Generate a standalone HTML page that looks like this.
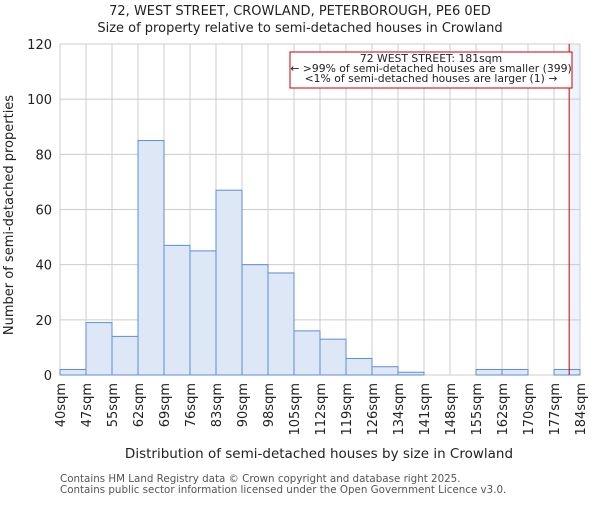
<!DOCTYPE html>
<html><head><meta charset="utf-8"><style>
body{margin:0;background:#fff}
svg text{font-family:"DejaVu Sans","Liberation Sans",sans-serif}
</style></head><body>
<svg id="chart" width="600" height="500" xmlns="http://www.w3.org/2000/svg">
<text x="300" y="15" text-anchor="middle" font-size="13" fill="#222">72, WEST STREET, CROWLAND, PETERBOROUGH, PE6 0ED</text>
<text x="300" y="32" text-anchor="middle" font-size="13" fill="#222">Size of property relative to semi-detached houses in Crowland</text>
<g id="grid"></g><g id="bars"></g><g id="axes"></g>
<text x="319" y="458" text-anchor="middle" font-size="13.5" fill="#222">Distribution of semi-detached houses by size in Crowland</text>
<text transform="translate(13,215) rotate(-90)" text-anchor="middle" font-size="13" fill="#222">Number of semi-detached properties</text>
<text x="60" y="482" font-size="10.3" fill="#555">Contains HM Land Registry data © Crown copyright and database right 2025.</text>
<text x="60" y="493" font-size="10.3" fill="#555">Contains public sector information licensed under the Open Government Licence v3.0.</text>
</svg>
<script>
const tickLabels=["40sqm","47sqm","55sqm","62sqm","69sqm","76sqm","83sqm","90sqm","98sqm","105sqm","112sqm","119sqm","126sqm","134sqm","141sqm","148sqm","155sqm","162sqm","170sqm","177sqm","184sqm"];
const counts=[2,19,14,85,47,45,67,40,37,16,13,6,3,1,0,0,2,2,0,2];
const yTicks=[0,20,40,60,80,100,120];
const binStart=40, binEnd=184;
const subjectSize=181;
const X0=60,X1=580,Y0=375,Y1=44,YMAX=120;
const NS="http://www.w3.org/2000/svg";
const n=counts.length;
const xb=i=>X0+(X1-X0)*i/n;
const xv=v=>X0+(X1-X0)*(v-binStart)/(binEnd-binStart);
const y=v=>Y0-(Y0-Y1)*v/YMAX;
function mk(t,a,p){const e=document.createElementNS(NS,t);for(const k in a)e.setAttribute(k,a[k]);p.appendChild(e);return e;}
const grid=document.getElementById('grid'),bars=document.getElementById('bars'),axes=document.getElementById('axes');
const hl=mk('rect',{x:xv(subjectSize),y:Y1,width:X1-xv(subjectSize),height:Y0-Y1,fill:'#eef3fc'},grid);


for(let i=0;i<=n;i++){
 const g=mk('line',{x1:xb(i),x2:xb(i),y1:Y1,y2:Y0,stroke:'#cccccc','stroke-width':1},grid);
 
 
 const t=mk('text',{transform:`translate(${xb(i)+5},383) rotate(-90)`,'text-anchor':'end','font-size':13,fill:'#222'},axes);
 t.textContent=tickLabels[i];
 
 
}
yTicks.forEach(v=>{
 const g=mk('line',{x1:X0,x2:X1,y1:y(v),y2:y(v),stroke:'#cccccc','stroke-width':1},grid);
 
 
 const t=mk('text',{x:X0-8,y:y(v)+5,'text-anchor':'end','font-size':13,fill:'#222'},axes);
 t.textContent=v;
 
 
});
counts.forEach((c,i)=>{
 if(c<=0)return;
 const r=mk('rect',{x:xb(i),y:y(c),width:xb(i+1)-xb(i),height:Y0-y(c),fill:'#dde7f5',stroke:'#5a8fd6','stroke-width':1},bars);
 
 
});
const ln=mk('line',{x1:xv(subjectSize),x2:xv(subjectSize),y1:Y1,y2:Y0,stroke:'#cc0000','stroke-width':1},axes);


const box=mk('rect',{x:290,y:52,width:282,height:36,fill:'#fff',stroke:'#cc0000','stroke-width':1},axes);


["72 WEST STREET: 181sqm","← >99% of semi-detached houses are smaller (399)","<1% of semi-detached houses are larger (1) →"].forEach((s,i)=>{
 const t=mk('text',{x:431,y:62+i*10,'text-anchor':'middle','font-size':10.8,fill:'#222'},axes);
 t.textContent=s;
 
 
});
</script>
</body></html>
